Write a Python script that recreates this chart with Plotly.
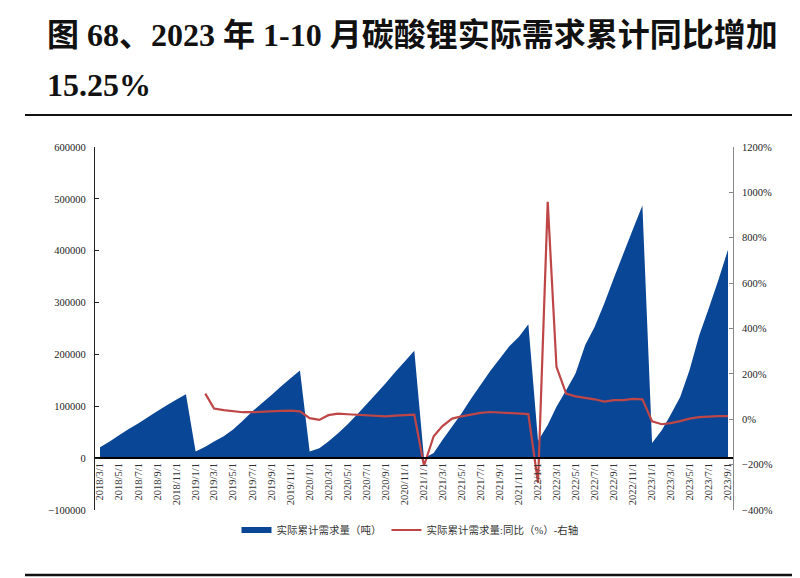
"""碳酸锂实际需求累计及同比（2018/3 - 2023/9）."""

import pandas as pd
import plotly.graph_objects as go

# ---- data ----
months = pd.date_range("2018-03-01", "2023-09-01", freq="MS")

# 实际累计需求量（吨）, one list per year
demand_2018 = [21000, 32000, 44000, 56000, 67000, 79000, 91000, 102000, 113000, 123000]
demand_2019 = [13000, 22000, 32000, 42000, 55000, 72000, 90000, 106000, 122000, 138000, 154000, 169000]
demand_2020 = [13000, 19000, 32000, 48000, 65000, 84000, 104000, 124000, 145000, 166000, 187000, 207000]
demand_2021 = [0, 10000, 35000, 61000, 86000, 115000, 141000, 168000, 192000, 216000, 234000, 258000]
demand_2022 = [33000, 64000, 99000, 131000, 163000, 218000, 253000, 298000, 348000, 394000, 442000, 487000]
demand_2023 = [29000, 54000, 83000, 118000, 170000, 237000, 288000, 343000, 402000]

# 实际累计需求量:同比（%）
yoy_2018 = [None] * 10
yoy_2019 = [None, 113, 47, 40, 35, 31, 31, 34, 35, 37, 38, 35]
yoy_2020 = [5, -3, 18, 25, 22, 19, 18, 14, 13, 16, 19, 20]
yoy_2021 = [-205, -75, -30, 3, 13, 21, 28, 32, 29, 28, 25, 23]
yoy_2022 = [-280, 958, 231, 113, 101, 95, 88, 78, 84, 84, 90, 88]
yoy_2023 = [-9, -22, -17, -8, 3, 9, 12, 14, 14]

demand = demand_2018 + demand_2019 + demand_2020 + demand_2021 + demand_2022 + demand_2023
yoy = yoy_2018 + yoy_2019 + yoy_2020 + yoy_2021 + yoy_2022 + yoy_2023

tick_dates = list(months[::2])
tick_labels = [f"{d.year}/{d.month}/1" for d in tick_dates]

title_line1 = "图 68、2023 年 1-10 月碳酸锂实际需求累计同比增加"
title_line2 = "15.25%"
name_area = "实际累计需求量（吨）"
name_line = "实际累计需求量:同比（%）-右轴"

# ---- geometry (page pixels; the page body adds an 8px margin) ----
W, H = 800, 578
OFF = 8
L, R, T, B = 95, 733, 147, 510


def px(x):
    return (x - L) / (R - L)


def py(y):
    return (B - y) / (B - T)


SERIF = "Liberation Serif, Times New Roman, Noto Sans CJK SC, serif"
CJK = "Liberation Serif, Noto Sans CJK SC, sans-serif"
BLUE = "#0A4696"
RED = "#BE4646"

fig = go.Figure()

fig.add_trace(
    go.Scatter(
        x=months,
        y=demand,
        name=name_area,
        mode="none",
        fill="tozeroy",
        fillcolor=BLUE,
    )
)
fig.add_trace(
    go.Scatter(
        x=months,
        y=yoy,
        name=name_line,
        mode="lines",
        line=dict(color=RED, width=2.2),
        yaxis="y2",
        connectgaps=False,
    )
)

fig.update_layout(
    width=W - OFF,
    height=H - OFF,
    margin=dict(l=L - OFF, r=W - R, t=T - OFF, b=H - B, pad=0),
    paper_bgcolor="white",
    plot_bgcolor="white",
    font=dict(family=SERIF, size=10.5, color="#222"),
    showlegend=True,
    legend=dict(
        orientation="h",
        x=px(410),
        xanchor="center",
        y=py(530),
        yanchor="middle",
        font=dict(family=CJK, size=10.5, color="#333"),
        itemwidth=30,
        tracegroupgap=0,
    ),
    xaxis=dict(
        type="date",
        range=["2018-02-13", "2023-09-17"],
        anchor="free",
        position=1 / 7,
        tickmode="array",
        tickvals=tick_dates,
        ticktext=tick_labels,
        tickangle=-90,
        tickfont=dict(family=SERIF, size=10.5, color="#333"),
        showline=True,
        linecolor="black",
        linewidth=1.5,
        showgrid=False,
        zeroline=False,
        ticks="",
    ),
    yaxis=dict(
        range=[-100000, 600000],
        dtick=100000,
        tick0=0,
        tickformat="d",
        showline=True,
        linecolor="#222",
        linewidth=1.2,
        ticks="inside",
        ticklen=4,
        tickcolor="#222",
        showgrid=False,
        zeroline=False,
        tickfont=dict(family=SERIF, size=10.5, color="#222"),
        ticklabelstandoff=6,
    ),
    yaxis2=dict(
        range=[-400, 1200],
        dtick=200,
        tick0=0,
        ticksuffix="%",
        overlaying="y",
        side="right",
        showline=True,
        linecolor="#888",
        linewidth=1,
        ticks="inside",
        ticklen=4,
        tickcolor="#888",
        showgrid=False,
        zeroline=False,
        tickfont=dict(family=SERIF, size=10.5, color="#222"),
        ticklabelstandoff=6,
    ),
)

# title lines
fig.add_annotation(
    x=px(45), y=py(35), xref="paper", yref="paper",
    text=f"<b>{title_line1}</b>", showarrow=False,
    xanchor="left", yanchor="middle",
    font=dict(family=CJK, size=32, color="#111"),
)
fig.add_annotation(
    x=px(45), y=py(85), xref="paper", yref="paper",
    text=f"<b>{title_line2}</b>", showarrow=False,
    xanchor="left", yanchor="middle",
    font=dict(family=CJK, size=32, color="#111"),
)

# horizontal rules above and below the chart
for y_rule, w in [(115, 2), (575, 2.5)]:
    fig.add_shape(
        type="line", xref="paper", yref="paper",
        x0=px(25), x1=px(800), y0=py(y_rule), y1=py(y_rule),
        line=dict(color="#111", width=w),
    )

fig.write_html("out.html")
